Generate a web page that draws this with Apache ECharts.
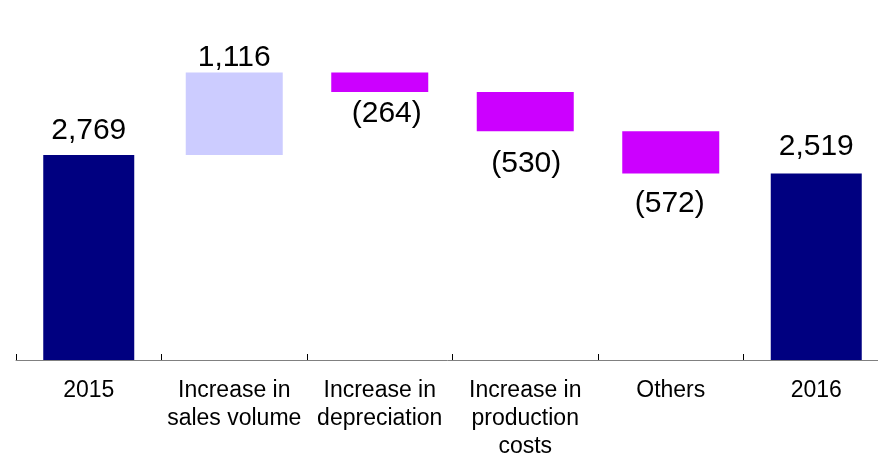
<!DOCTYPE html>
<html>
<head>
<meta charset="utf-8">
<script src="https://cdn.jsdelivr.net/npm/echarts@6/dist/echarts.min.js"></script>
<style>
  html, body { margin: 0; padding: 0; background: #fff; }
  #chart { width: 878px; height: 453px; }
</style>
</head>
<body>
<div id="chart"></div>
<script>
const categories = ['2015', 'Increase in\nsales volume', 'Increase in\ndepreciation', 'Increase in\nproduction\ncosts', 'Others', '2016']
// totals (start / end), null where the bar is a change
const totals = [2769, null, null, null, null, 2519]
// changes between the two years, null where the bar is a total
const changes = [null, 1116, -264, -530, -572, null]

const font = "'Liberation Sans', Arial, sans-serif"
const fmt = v => Math.abs(v).toLocaleString('en-US')

// label placement tweaks, the source deck nudged these by hand
const labelDist = [9, 0, 7, 17, 15, 12]
const labelOffset = [[0, 0], [0, 0], [7, 0], [1, 0], [-1, 0], [0, 0]]

// invisible base under each change bar
let running = totals[0]
const base = changes.map(v => {
  if (v == null) return null
  const b = v > 0 ? running : running + v
  running += v
  return b
})
const withLabel = arr => arr.map((v, i) => (v == null ? null : {
  value: v,
  label: { distance: labelDist[i], offset: labelOffset[i] },
}))
const ups = withLabel(changes.map(v => (v != null && v > 0 ? v : null)))
const downs = withLabel(changes.map(v => (v != null && v < 0 ? -v : null)))

const valueLabel = {
  show: true,
  color: '#000',
  fontFamily: font,
  fontSize: 30,
}

const chart = echarts.init(document.getElementById('chart'))
chart.setOption({
  animation: false,
  grid: { left: 16, width: 873, top: 64, bottom: 93, outerBoundsMode: 'none', containLabel: false },
  xAxis: [{
    type: 'category',
    data: categories,
    axisLine: { lineStyle: { color: '#808080', width: 1 } },
    axisTick: { show: true, interval: 0, inside: true, length: 6, lineStyle: { color: '#000', width: 1 } },
    axisLabel: {
      interval: 0,
      color: '#000',
      fontFamily: font,
      fontSize: 23,
      lineHeight: 28,
      margin: 17,
    },
  }, {
    type: 'category',
    data: categories,
    show: false,
  }],
  yAxis: { type: 'value', min: 0, max: 4000, show: false },
  series: [
    {
      name: 'total',
      type: 'bar',
      xAxisIndex: 0,
      barWidth: 91,
      data: withLabel(totals),
      itemStyle: { color: '#000080' },
      label: Object.assign({ position: 'top', formatter: p => fmt(p.value) }, valueLabel),
    },
    {
      name: 'base',
      type: 'bar',
      xAxisIndex: 1,
      stack: 'w',
      barWidth: 97,
      data: base,
      itemStyle: { color: 'transparent' },
    },
    {
      name: 'increase',
      type: 'bar',
      xAxisIndex: 1,
      stack: 'w',
      data: ups,
      itemStyle: { color: '#CCCCFF' },
      label: Object.assign({ position: 'top', formatter: p => fmt(p.value) }, valueLabel),
    },
    {
      name: 'decrease',
      type: 'bar',
      xAxisIndex: 1,
      stack: 'w',
      data: downs,
      itemStyle: { color: '#CC00FF' },
      label: Object.assign({ position: 'bottom', formatter: p => '(' + fmt(p.value) + ')' }, valueLabel),
    },
  ],
})
</script>
</body>
</html>
